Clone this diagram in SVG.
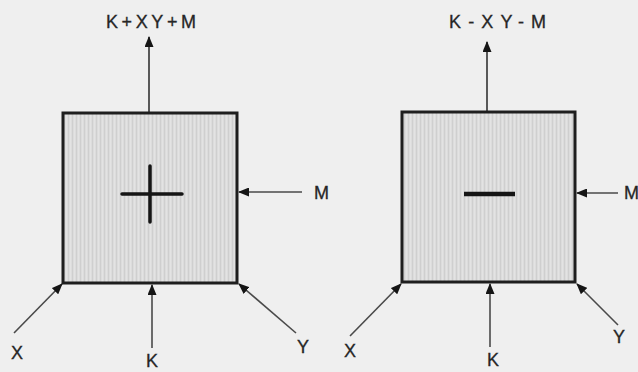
<svg xmlns="http://www.w3.org/2000/svg" width="638" height="372" viewBox="0 0 638 372">
<style>
.bg{fill:#efefef}
.box{fill:url(#tex);stroke:#1e1e1e;stroke-width:3}
.sign{stroke:#151515;stroke-width:3.5;stroke-linecap:round;fill:none}
.conn{stroke:#4a4a4a;stroke-width:1.6;fill:none;marker-end:url(#ah)}
.up{stroke:#333;stroke-width:1.6;fill:none;marker-end:url(#ah)}
.lbl{font-family:"Liberation Sans",Arial,sans-serif;font-size:18px;fill:#262626;stroke:#262626;stroke-width:0.3}
.mid{text-anchor:middle}
</style>
<defs>
<pattern id="tex" width="4" height="10" patternUnits="userSpaceOnUse">
<rect width="4" height="10" fill="#dcdcdc"/>
<rect x="0" width="1" height="10" fill="#cfcfcf"/>
<rect x="2" width="1" height="10" fill="#e3e3e3"/>
</pattern>
<marker id="ah" markerWidth="11" markerHeight="9" refX="10" refY="4.5" orient="auto" markerUnits="userSpaceOnUse">
<path d="M0,0 L11,4.5 L0,9 Z" fill="#151515"/>
</marker>
</defs>
<rect class="bg" width="638" height="372"/>
<g id="connectors">
<line class="up" x1="149" y1="113" x2="149" y2="37"/>
<line class="up" x1="487" y1="112" x2="487" y2="42"/>
<line class="conn" x1="302" y1="192" x2="239" y2="192"/>
<line class="conn" x1="618" y1="193" x2="577" y2="193"/>
<line class="conn" x1="14" y1="333" x2="62" y2="284"/>
<line class="conn" x1="152" y1="348" x2="152" y2="285"/>
<line class="conn" x1="296" y1="333" x2="239" y2="284"/>
<line class="conn" x1="350" y1="336" x2="401" y2="284"/>
<line class="conn" x1="490" y1="347" x2="490" y2="284"/>
<line class="conn" x1="618" y1="325" x2="577" y2="284"/>
</g>
<g id="adder">
<rect class="box" x="63" y="113" width="174" height="170"/>
<path class="sign" d="M122,194 H182 M150,166 V222"/>
</g>
<g id="subtractor">
<rect class="box" x="402" y="112" width="173" height="170"/>
<path class="sign" d="M464,194 H515" style="stroke-width:4.5;stroke-linecap:butt"/>
</g>
<g id="labels">
<text class="lbl" x="106" y="28" textLength="90" lengthAdjust="spacing">K+XY+M</text>
<text class="lbl" x="449" y="28" textLength="97" lengthAdjust="spacing">K-XY-M</text>
<text class="lbl" x="314" y="199">M</text>
<text class="lbl" x="624" y="199">M</text>
<text class="lbl mid" x="17" y="359">X</text>
<text class="lbl mid" x="152" y="367">K</text>
<text class="lbl mid" x="303" y="353">Y</text>
<text class="lbl mid" x="350" y="357">X</text>
<text class="lbl mid" x="493" y="366">K</text>
<text class="lbl mid" x="619" y="343">Y</text>
</g>
</svg>
